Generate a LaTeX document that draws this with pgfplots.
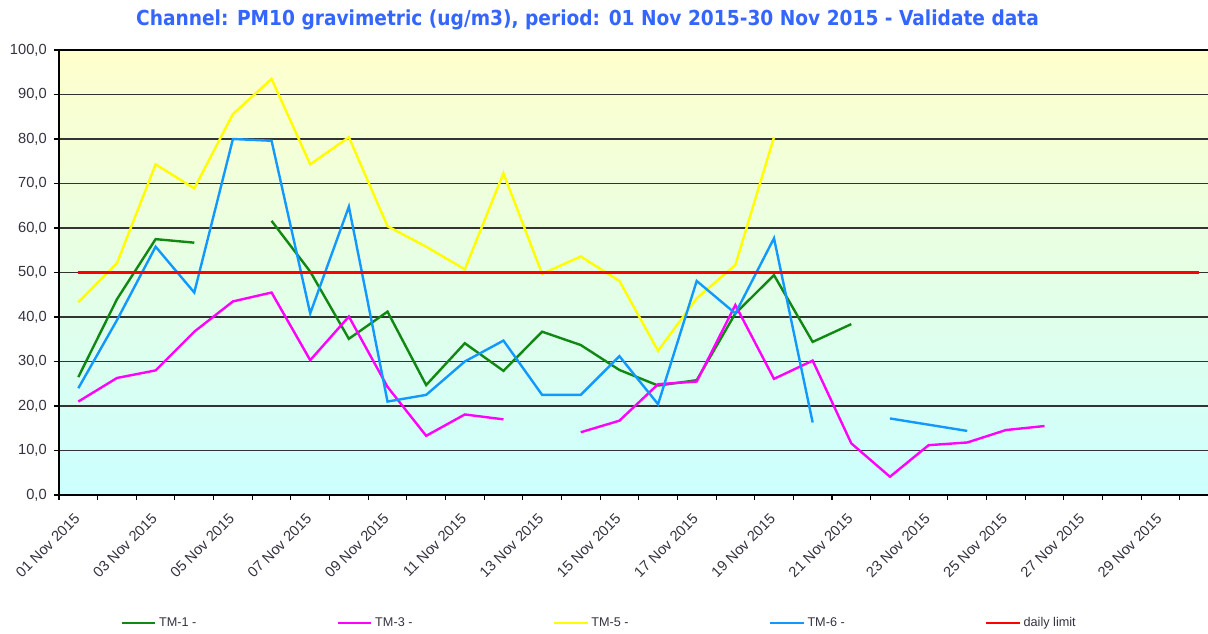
\documentclass[border=0pt]{standalone}
\usepackage{fontspec}
\setmainfont{Liberation Sans}
\newfontfamily\titlefont{DejaVu Sans Condensed}
\usepackage{pgfplots}
\pgfplotsset{compat=1.18}
\usepackage{pgfplotstable}
\definecolor{titleblue}{HTML}{3366FF}
\definecolor{bgtop}{HTML}{FFFFCC}
\definecolor{bgbot}{HTML}{CCFFFF}
\definecolor{gridgray}{HTML}{333333}
\definecolor{labgray}{HTML}{333340}
\definecolor{tmgreen}{HTML}{118811}
\definecolor{tmmag}{HTML}{FF00FF}
\definecolor{tmyel}{HTML}{FFFF00}
\definecolor{tmblue}{HTML}{1199FF}
\definecolor{limred}{HTML}{FF0000}

\pgfplotstableread{
day tmone tmthree tmfive tmsix
1  26.5 21.0 43.3 24.0
2  44.0 26.3 52.1 39.3
3  57.5 28.0 74.3 55.8
4  56.7 36.7 68.9 45.5
5  nan  43.5 85.6 80.0
6  61.6 45.5 93.5 79.6
7  50.2 30.3 74.3 40.8
8  35.1 40.1 80.4 64.8
9  41.2 24.3 60.4 21.0
10 24.7 13.3 55.8 22.5
11 34.1 18.1 50.7 30.0
12 27.9 17.0 72.3 34.7
13 36.7 nan  49.7 22.5
14 33.7 14.1 53.6 22.5
15 28.1 16.7 48.1 31.2
16 24.6 24.9 32.4 20.4
17 25.8 25.5 44.2 48.1
18 40.8 42.7 51.7 40.8
19 49.4 26.1 80.4 57.7
20 34.4 30.2 nan  16.3
21 38.4 11.6 nan  nan
22 nan  4.1  nan  17.2
23 nan  11.2 nan  15.8
24 nan  11.8 nan  14.4
25 nan  14.6 nan  nan
26 nan  15.5 nan  nan
}\datatable

\begin{document}
\begin{tikzpicture}
\useasboundingbox (0,0) rectangle (906pt,474.75pt);
\clip (0,0) rectangle (906pt,474.75pt);
\node[font=\titlefont\bfseries\fontsize{15.5}{18}\selectfont, text=titleblue] at (440.6pt,459.75pt) {Channel: PM10 gravimetric (ug/m3), period: 01 Nov 2015-30 Nov 2015 - Validate data};
\begin{axis}[
  at={(44.25pt,103.5pt)}, anchor=south west,
  scale only axis, width=869.6pt, height=333.75pt,
  xmin=0.5, xmax=30.5, ymin=0, ymax=100,
  axis background/.style={top color=bgtop, bottom color=bgbot},
  xtick={1,3,5,7,9,11,13,15,17,19,21,23,25,27,29},
  xticklabels={01 Nov 2015,03 Nov 2015,05 Nov 2015,07 Nov 2015,09 Nov 2015,11 Nov 2015,13 Nov 2015,15 Nov 2015,17 Nov 2015,19 Nov 2015,21 Nov 2015,23 Nov 2015,25 Nov 2015,27 Nov 2015,29 Nov 2015},
  minor xtick={0.5,1.5,...,30.5},
  major x tick style={draw=none},
  minor tick length=3.5pt,
  ytick={0,10,...,100},
  ymajorgrids, grid style={color=gridgray, line width=1pt},
  tick pos=left, tick align=outside, major tick length=3.5pt,
  tick style={color=black, line width=0.8pt},
  axis line style={color=black, line width=1pt},
  /pgf/number format/.cd, fixed, fixed zerofill, precision=1, use comma, assume math mode=true,
  /pgfplots/.cd,
  yticklabel style={font=\fontsize{11}{12}\selectfont, text=labgray, xshift=-2.2pt},
  xticklabel style={font=\fontsize{11}{12}\selectfont, text=labgray, xshift=1.5pt, yshift=-10pt, rotate=45, anchor=east},
  unbounded coords=jump,
  legend columns=5,
  legend image code/.code={\draw[#1] (0pt,0pt) -- (25pt,0pt);},
  legend style={at={(0.0530,-0.2876)}, anchor=west, draw=none, fill=none,
    font=\fontsize{9.5}{10}\selectfont, text=labgray, inner sep=0pt},
  legend cell align=left,
]
\addplot[tmgreen, line width=1.8pt] table[x=day, y=tmone] {\datatable};
\addlegendentry{\makebox[131.3pt][l]{TM-1 -}}
\addplot[tmmag, line width=1.8pt] table[x=day, y=tmthree] {\datatable};
\addlegendentry{\makebox[131.3pt][l]{TM-3 -}}
\addplot[tmyel, line width=1.8pt] table[x=day, y=tmfive] {\datatable};
\addlegendentry{\makebox[131.3pt][l]{TM-5 -}}
\addplot[tmblue, line width=1.8pt] table[x=day, y=tmsix] {\datatable};
\addlegendentry{\makebox[131.3pt][l]{TM-6 -}}
\addplot[limred, line width=1.8pt] coordinates {(1,50) (30,50)};
\addlegendentry{daily limit}
\end{axis}
\end{tikzpicture}
\end{document}
